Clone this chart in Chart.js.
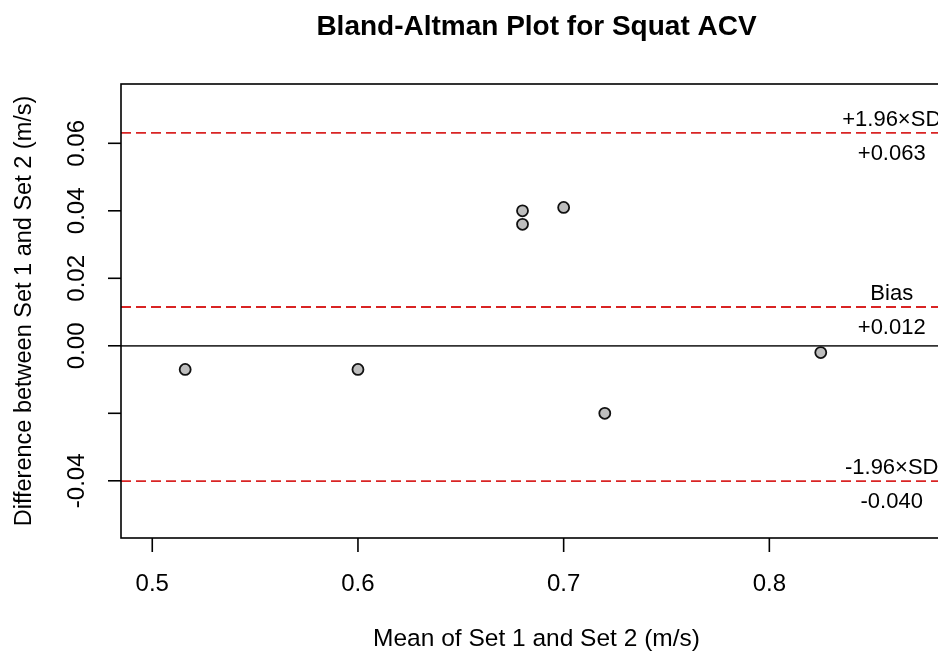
<!DOCTYPE html>
<html>
<head>
<meta charset="utf-8">
<title>Bland-Altman Plot for Squat ACV</title>
<script src="https://cdn.jsdelivr.net/npm/chart.js@4"></script>
<style>
  html, body { margin: 0; padding: 0; overflow: hidden; background: #fff; }
  #wrap { width: 1000px; height: 652px; }
</style>
</head>
<body>
<div id="wrap"><canvas id="chart" width="1000" height="652"></canvas></div>
<script>
// data
const meanVals = [0.516, 0.600, 0.680, 0.680, 0.700, 0.720, 0.825];
const diffVals = [-0.007, -0.007, 0.040, 0.036, 0.041, -0.020, -0.002];

const limitVals = [0.0631, 0.0115, -0.0401];
const limitNames = ["+1.96×SD", "Bias", "-1.96×SD"];
const limitLabels = ["+0.063", "+0.012", "-0.040"];

const xTicks = [0.5, 0.6, 0.7, 0.8];
const xTickLabels = ["0.5", "0.6", "0.7", "0.8"];
const yTicks = [-0.04, -0.02, 0, 0.02, 0.04, 0.06];
const yTickLabels = ["-0.04", "", "0.00", "0.02", "0.04", "0.06"];

const xRange = [0.4848, 0.8888];
const yRange = [-0.05695, 0.07757];
const labelX = 0.8595;

const FONT = '"Liberation Sans", Arial, sans-serif';

function hline(y, color, width, dash) {
  return {
    type: "line",
    data: [{ x: xRange[0], y: y }, { x: xRange[1], y: y }],
    borderColor: color,
    borderWidth: width,
    borderDash: dash,
    pointRadius: 0,
    showLine: true,
    fill: false,
  };
}

const datasets = [
  {
    type: "scatter",
    data: meanVals.map((m, i) => ({ x: m, y: diffVals[i] })),
    backgroundColor: "#bebebe",
    borderColor: "#111",
    borderWidth: 1.8,
    pointRadius: 5.5,
  },
  hline(0, "#333", 1.8, []),
];
limitVals.forEach((v) => datasets.push(hline(v, "#d92424", 1.8, [10, 5])));

const rPlot = {
  id: "rPlot",
  afterDraw(chart) {
    const ctx = chart.ctx;
    const a = chart.chartArea;
    const xs = chart.scales.x;
    const ys = chart.scales.y;
    ctx.save();
    ctx.strokeStyle = "#000";
    ctx.fillStyle = "#000";
    ctx.lineWidth = 1.6;
    ctx.strokeRect(a.left, a.top, a.right - a.left, a.bottom - a.top);

    // x axis ticks
    ctx.font = "24px " + FONT;
    ctx.textAlign = "center";
    ctx.textBaseline = "alphabetic";
    xTicks.forEach((t, i) => {
      const px = xs.getPixelForValue(t);
      ctx.beginPath();
      ctx.moveTo(px, a.bottom);
      ctx.lineTo(px, a.bottom + 14);
      ctx.stroke();
      ctx.fillText(xTickLabels[i], px, 591);
    });

    // y axis ticks (labels vertical, like R)
    yTicks.forEach((t, i) => {
      const py = ys.getPixelForValue(t);
      ctx.beginPath();
      ctx.moveTo(a.left - 13, py);
      ctx.lineTo(a.left, py);
      ctx.stroke();
      if (yTickLabels[i]) {
        ctx.save();
        ctx.translate(77, py);
        ctx.rotate(-Math.PI / 2);
        ctx.textBaseline = "middle";
        ctx.fillText(yTickLabels[i], 0, 0);
        ctx.restore();
      }
    });

    // axis titles
    const cx = (a.left + a.right) / 2;
    const cy = (a.top + a.bottom) / 2;
    ctx.font = "24.5px " + FONT;
    ctx.fillText("Mean of Set 1 and Set 2 (m/s)", cx, 646);
    ctx.save();
    ctx.translate(25, cy);
    ctx.rotate(-Math.PI / 2);
    ctx.textBaseline = "middle";
    ctx.font = "23.5px " + FONT;
    ctx.fillText("Difference between Set 1 and Set 2 (m/s)", 0, 0);
    ctx.restore();

    // main title
    ctx.font = "bold 28px " + FONT;
    ctx.fillText("Bland-Altman Plot for Squat ACV", cx, 35);

    // limit labels
    ctx.font = "22px " + FONT;
    const lx = xs.getPixelForValue(labelX);
    limitVals.forEach((v, i) => {
      const py = ys.getPixelForValue(v);
      ctx.fillText(limitNames[i], lx, py - 7);
      ctx.fillText(limitLabels[i], lx, py + 27);
    });
    ctx.restore();
  },
};

new Chart(document.getElementById("chart"), {
  data: { datasets: datasets },
  options: {
    responsive: false,
    animation: false,
    events: [],
    layout: { padding: { left: 121, top: 84, right: 48, bottom: 114 } },
    plugins: { legend: { display: false }, tooltip: { enabled: false } },
    scales: {
      x: { type: "linear", min: xRange[0], max: xRange[1], display: false },
      y: { type: "linear", min: yRange[0], max: yRange[1], display: false },
    },
  },
  plugins: [rPlot],
});
</script>
</body>
</html>
